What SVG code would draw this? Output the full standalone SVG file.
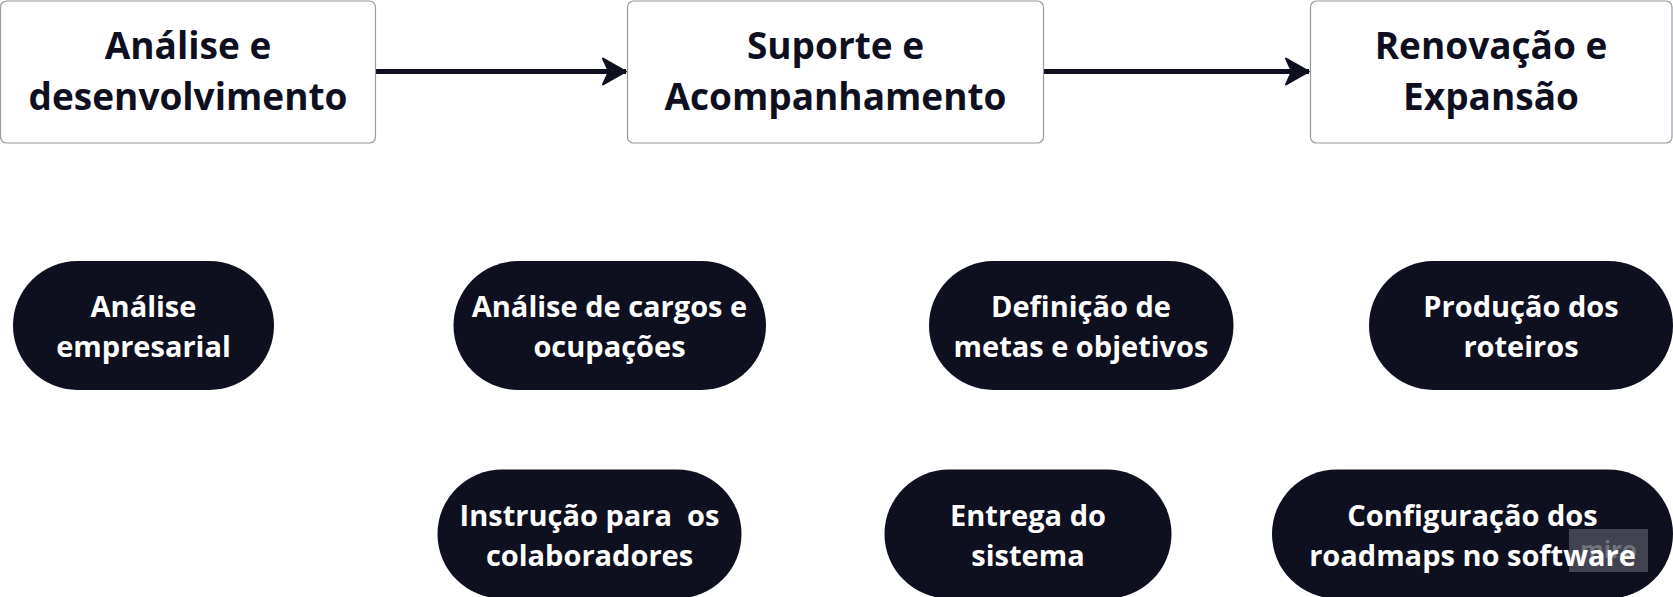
<svg xmlns="http://www.w3.org/2000/svg" width="1673" height="597" viewBox="0 0 1673 597">
<style>
.box{fill:#ffffff;stroke:#9a9aa0;stroke-width:1.2}
.pill{fill:#0e0f1f}
.ht{font-family:"Open Sans","Noto Sans",sans-serif;font-weight:700;font-size:37px;fill:#0e0f1f;text-anchor:middle}
.pt{font-family:"Open Sans","Noto Sans",sans-serif;font-weight:700;font-size:29px;fill:#ffffff;text-anchor:middle;white-space:pre}
.conn{stroke:#0e0f1f;stroke-width:5;fill:none}
</style>
<defs>
<marker id="arr" markerUnits="userSpaceOnUse" markerWidth="28" markerHeight="30" viewBox="0 0 28 30" refX="25" refY="15" orient="auto">
<path d="M2,2 L25,15 L2,28 L8,15 Z" fill="#0e0f1f" stroke="#0e0f1f" stroke-width="2" stroke-linejoin="round"/>
</marker>
</defs>
<rect width="1673" height="597" fill="#ffffff"/>
<g id="connectors">
<line class="conn" x1="376" y1="71.5" x2="626" y2="71.5" marker-end="url(#arr)"/>
<line class="conn" x1="1044" y1="71.5" x2="1309" y2="71.5" marker-end="url(#arr)"/>
</g>
<g id="n1">
<rect class="box" x="0.5" y="1" width="375" height="142" rx="6"/>
<text class="ht" x="188" y="59">Análise e</text>
<text class="ht" x="188" y="110">desenvolvimento</text>
</g>
<g id="n2">
<rect class="box" x="627.5" y="1" width="416" height="142" rx="6"/>
<text class="ht" x="835.5" y="59">Suporte e</text>
<text class="ht" x="835.5" y="110">Acompanhamento</text>
</g>
<g id="n3">
<rect class="box" x="1310.5" y="1" width="361.5" height="142" rx="6"/>
<text class="ht" x="1491" y="59">Renovação e</text>
<text class="ht" x="1491" y="110">Expansão</text>
</g>
<g id="p1">
<rect class="pill" x="13" y="261" width="261" height="129" rx="64.5"/>
<text class="pt" x="143.5" y="317">Análise</text>
<text class="pt" x="143.5" y="357">empresarial</text>
</g>
<g id="p2">
<rect class="pill" x="453.5" y="261" width="312.5" height="129" rx="64.5"/>
<text class="pt" x="609.5" y="317">Análise de cargos e</text>
<text class="pt" x="609.5" y="357">ocupações</text>
</g>
<g id="p3">
<rect class="pill" x="929" y="261" width="304.5" height="129" rx="64.5"/>
<text class="pt" x="1081" y="317">Definição de</text>
<text class="pt" x="1081" y="357">metas e objetivos</text>
</g>
<g id="p4">
<rect class="pill" x="1369" y="261" width="304" height="129" rx="64.5"/>
<text class="pt" x="1521" y="317">Produção dos</text>
<text class="pt" x="1521" y="357">roteiros</text>
</g>
<g id="p5">
<rect class="pill" x="437.5" y="469.5" width="304" height="129" rx="64.5"/>
<text class="pt" x="589.5" y="525.5" xml:space="preserve">Instrução para  os</text>
<text class="pt" x="589.5" y="565.5">colaboradores</text>
</g>
<g id="p6">
<rect class="pill" x="884.5" y="469.5" width="287" height="129" rx="64.5"/>
<text class="pt" x="1028" y="525.5">Entrega do</text>
<text class="pt" x="1028" y="565.5">sistema</text>
</g>
<g id="p7">
<rect class="pill" x="1272" y="469.5" width="401" height="129" rx="64.5"/>
<text class="pt" x="1472.5" y="525.5">Configuração dos</text>
<text class="pt" x="1472.5" y="565.5">roadmaps no software</text>
</g>
<g id="watermark">
<rect x="1569" y="529" width="79" height="43" fill="#ffffff" fill-opacity="0.22"/>
<text x="1608.5" y="558" font-family="Open Sans, sans-serif" font-weight="700" font-size="24" fill="#ffffff" fill-opacity="0.25" text-anchor="middle">miro</text>
</g>
</svg>
